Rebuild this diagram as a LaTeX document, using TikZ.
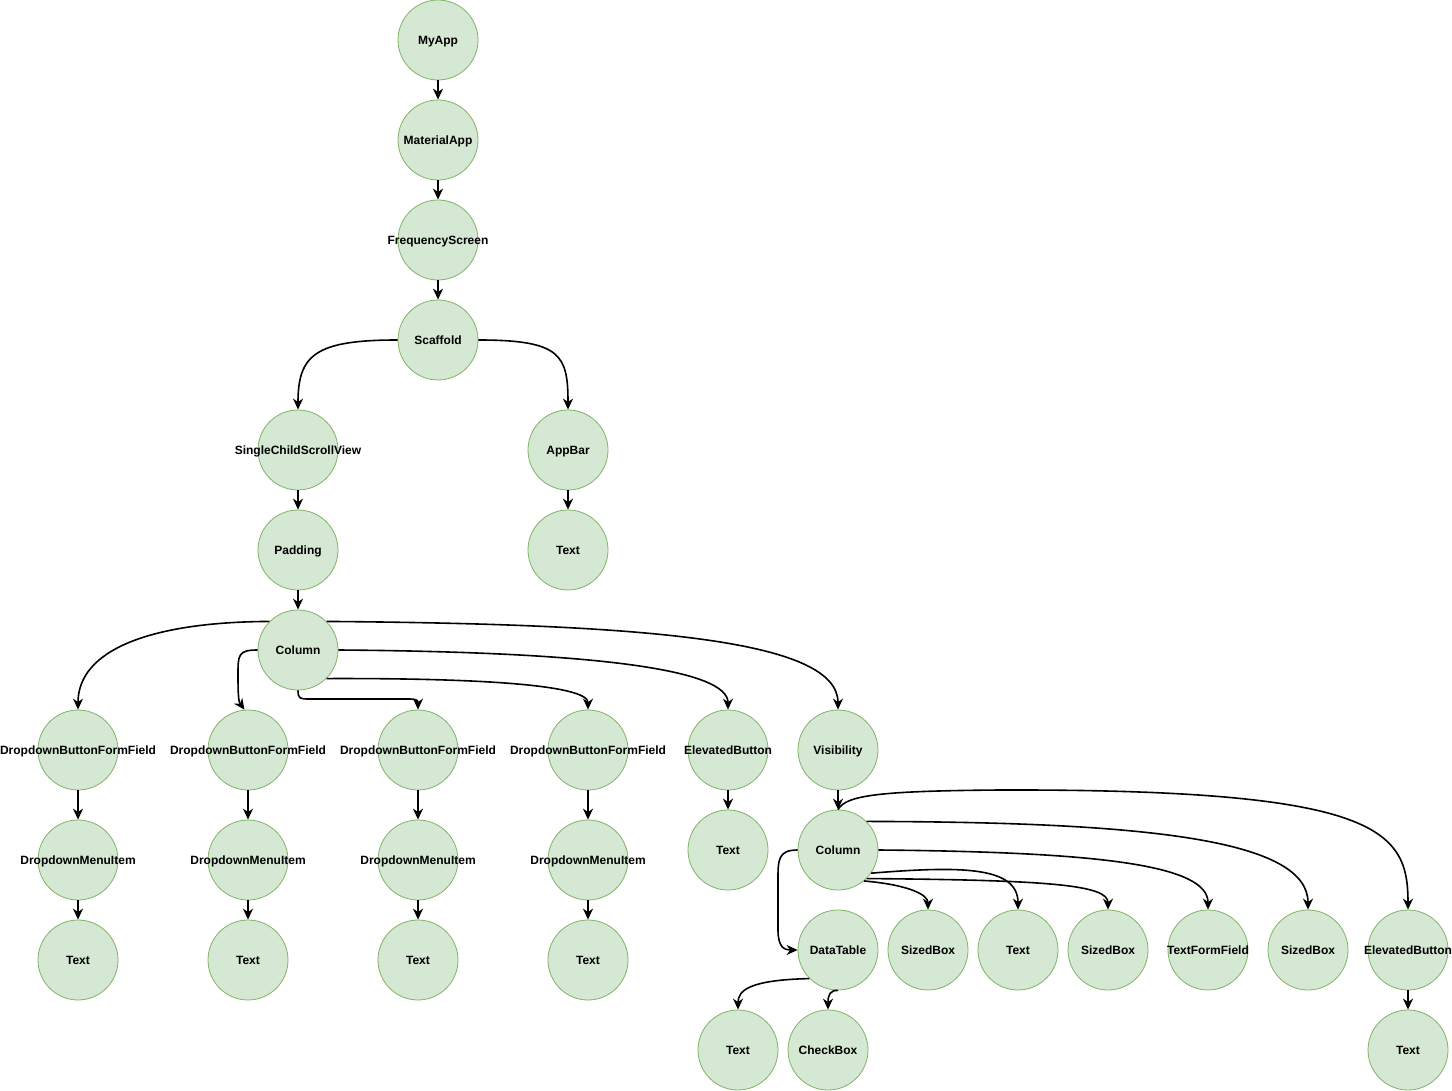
\documentclass[tikz,border=0pt]{standalone}
\usepackage{fontspec}
\setmainfont{Liberation Sans}
\usetikzlibrary{arrows.meta}
\definecolor{nodefill}{HTML}{D5E8D4}
\definecolor{nodeline}{HTML}{82B366}
\newcommand{\wlab}[1]{\makebox[0pt][c]{#1}}
\begin{document}
\begin{tikzpicture}[x=1pt,y=-1pt,
  wnode/.style={circle, minimum size=80pt, inner sep=0pt, fill=nodefill, draw=nodeline, line width=0.8pt,
    text height=10pt, text depth=1.4pt,
    font=\bfseries\fontsize{12}{14}\selectfont},
  edge/.style={draw, line width=1.6pt, -{Stealth[length=11pt,width=10pt,inset=3.5pt]}}]
\useasboundingbox (0,0) rectangle (1452,1091);
% top chain
\node[wnode] (myapp) at (438,40) {\wlab{MyApp}};
\node[wnode] (mat) at (438,140) {\wlab{MaterialApp}};
\node[wnode] (freq) at (438,240) {\wlab{FrequencyScreen}};
\node[wnode] (scaf) at (438,340) {\wlab{Scaffold}};
\node[wnode] (scsv) at (298,450) {\wlab{SingleChildScrollView}};
\node[wnode] (appbar) at (568,450) {\wlab{AppBar}};
\node[wnode] (tapp) at (568,550) {\wlab{Text}};
\node[wnode] (pad) at (298,550) {\wlab{Padding}};
\node[wnode] (col) at (298,650) {\wlab{Column}};
% dropdowns
\node[wnode] (d1) at (78,750) {\wlab{DropdownButtonFormField}};
\node[wnode] (d2) at (248,750) {\wlab{DropdownButtonFormField}};
\node[wnode] (d3) at (418,750) {\wlab{DropdownButtonFormField}};
\node[wnode] (d4) at (588,750) {\wlab{DropdownButtonFormField}};
\node[wnode] (m1) at (78,860) {\wlab{DropdownMenuItem}};
\node[wnode] (m2) at (248,860) {\wlab{DropdownMenuItem}};
\node[wnode] (m3) at (418,860) {\wlab{DropdownMenuItem}};
\node[wnode] (m4) at (588,860) {\wlab{DropdownMenuItem}};
\node[wnode] (x1) at (78,960) {\wlab{Text}};
\node[wnode] (x2) at (248,960) {\wlab{Text}};
\node[wnode] (x3) at (418,960) {\wlab{Text}};
\node[wnode] (x4) at (588,960) {\wlab{Text}};
\node[wnode] (eb) at (728,750) {\wlab{ElevatedButton}};
\node[wnode] (teb) at (728,850) {\wlab{Text}};
\node[wnode] (vis) at (838,750) {\wlab{Visibility}};
\node[wnode] (col2) at (838,850) {\wlab{Column}};
\node[wnode] (dt) at (838,950) {\wlab{DataTable}};
\node[wnode] (sb1) at (928,950) {\wlab{SizedBox}};
\node[wnode] (t2) at (1018,950) {\wlab{Text}};
\node[wnode] (sb2) at (1108,950) {\wlab{SizedBox}};
\node[wnode] (tff) at (1208,950) {\wlab{TextFormField}};
\node[wnode] (sb3) at (1308,950) {\wlab{SizedBox}};
\node[wnode] (eb2) at (1408,950) {\wlab{ElevatedButton}};
\node[wnode] (teb2) at (1408,1050) {\wlab{Text}};
\node[wnode] (t3) at (738,1050) {\wlab{Text}};
\node[wnode] (cb) at (828,1050) {\wlab{CheckBox}};
% straight edges
\draw[edge] (myapp) -- (mat);
\draw[edge] (mat) -- (freq);
\draw[edge] (freq) -- (scaf);
\draw[edge] (scsv) -- (pad);
\draw[edge] (pad) -- (col);
\draw[edge] (appbar) -- (tapp);
\draw[edge] (d1) -- (m1);
\draw[edge] (d2) -- (m2);
\draw[edge] (d3) -- (m3);
\draw[edge] (d4) -- (m4);
\draw[edge] (m1) -- (x1);
\draw[edge] (m2) -- (x2);
\draw[edge] (m3) -- (x3);
\draw[edge] (m4) -- (x4);
\draw[edge] (eb) -- (teb);
\draw[edge] (vis) -- (col2);
\draw[edge] (eb2) -- (teb2);
% scaffold
\draw[edge] (scaf.west) .. controls (315,340) and (298,355) .. (scsv.north);
\draw[edge] (scaf.east) .. controls (561,340) and (568,355) .. (appbar.north);
% column
\draw[edge] (col.135) .. controls (150,622) and (78,650) .. (d1.north);
\draw[edge] (col.west) .. controls (238,650) and (238,655) .. (238,675) .. controls (238,700) and (239,702) .. (d2.95);
\draw[edge] (col.south) .. controls (298,699) and (300,699) .. (310,699) -- (408,699) .. controls (416,699) and (418,700) .. (d3.north);
\draw[edge] (col.-45) .. controls (480,678) and (588,685) .. (d4.north);
\draw[edge] (col.east) .. controls (600,652) and (728,670) .. (eb.north);
\draw[edge] (col.45) .. controls (650,624) and (838,640) .. (vis.north);
% column 2
\draw[edge] (col2.west) .. controls (778,850) and (778,860) .. (778,880) -- (778,930) .. controls (778,948) and (785,950) .. (dt.west);
\draw[edge] (col2.-50) .. controls (910,885) and (928,895) .. (sb1.north);
\draw[edge] (col2.-35) .. controls (960,866) and (1018,866) .. (t2.north);
\draw[edge] (col2.-45) .. controls (1050,880) and (1108,885) .. (sb2.north);
\draw[edge] (col2.east) .. controls (1100,852) and (1208,865) .. (tff.north);
\draw[edge] (col2.45) .. controls (1150,822) and (1308,840) .. (sb3.north);
\draw[edge] (col2.north) .. controls (846,795) and (880,791) .. (1000,790) .. controls (1380,789) and (1408,830) .. (eb2.north);
% datatable
\draw[edge] (dt.225) .. controls (750,980) and (738,990) .. (t3.north);
\draw[edge] (dt.south) .. controls (830,990) and (828,995) .. (cb.north);
\end{tikzpicture}
\end{document}
